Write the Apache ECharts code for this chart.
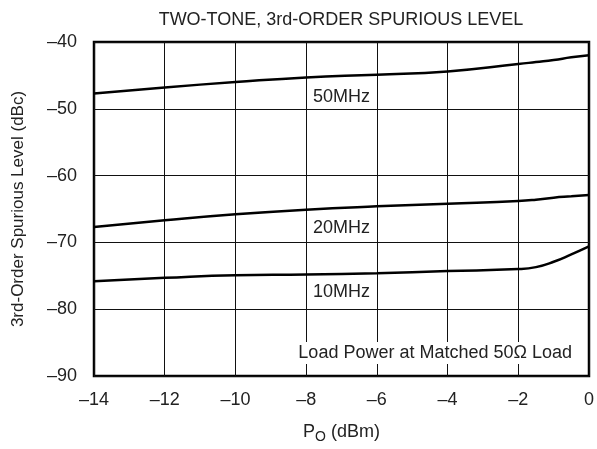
<!DOCTYPE html>
<html>
<head>
<meta charset="utf-8">
<script src="https://cdn.jsdelivr.net/npm/echarts@6/dist/echarts.min.js"></script>
<style>
  html, body { margin: 0; padding: 0; background: #fff; }
  #chart { width: 597px; height: 449px; }
</style>
</head>
<body>
<div id="chart"></div>
<script>
// Output power P_O (dBm)
const powerDbm = [-14, -12, -10, -8, -6, -4, -2, -1.5, -1, -0.5, 0];
// Third-order spurious level (dBc) at each frequency
const level50MHz = [-47.7, -46.8, -46.0, -45.3, -44.9, -44.4, -43.3, -43.0, -42.7, -42.3, -42.0];
const level20MHz = [-67.7, -66.7, -65.8, -65.1, -64.6, -64.2, -63.8, -63.6, -63.3, -63.1, -62.9];
const level10MHz = [-75.8, -75.3, -74.9, -74.8, -74.6, -74.3, -74.0, -73.7, -72.9, -71.8, -70.6];

const xTicks = [-14, -12, -10, -8, -6, -4, -2, 0];
const yTicks = [-90, -80, -70, -60, -50, -40];

const seriesNames = ['50MHz', '20MHz', '10MHz'];
const seriesValues = [level50MHz, level20MHz, level10MHz];
// Curve label anchors [P_O, level]
const labelAnchors = [[-7, -48.2], [-7, -67.85], [-7, -77.4]];

const FONT = 'Liberation Sans, Arial, Helvetica, sans-serif';
const TEXT = '#222';
const FS = 18;
const dash = v => String(v).replace('-', '\u2013');

const chart = echarts.init(document.getElementById('chart'), null, { renderer: 'canvas' });

chart.setOption({
  animation: false,
  backgroundColor: '#fff',
  textStyle: { fontFamily: FONT },
  title: {
    text: 'TWO-TONE, 3rd-ORDER SPURIOUS LEVEL',
    left: 336, top: 6, textAlign: 'center',
    textStyle: { fontFamily: FONT, fontSize: FS, fontWeight: 'normal', color: TEXT }
  },
  grid: {
    left: 94, right: 8, top: 42, bottom: 72,
    show: true, borderColor: '#000', borderWidth: 2.5, backgroundColor: 'transparent'
  },
  xAxis: {
    type: 'value', min: -14, max: 0, interval: 2,
    axisLine: { show: false },
    axisTick: { show: false },
    splitLine: { show: true, lineStyle: { color: '#111', width: 1 } },
    axisLabel: {
      color: TEXT, fontSize: FS, fontFamily: FONT, margin: 15,
      formatter: v => xTicks.includes(v) ? dash(v) : ''
    },
    name: '{n|P}{s|O}{n| (dBm)}',
    nameLocation: 'middle', nameGap: 44,
    nameTextStyle: {
      rich: {
        n: { fontSize: FS, color: TEXT, fontFamily: FONT },
        s: { fontSize: 14, color: TEXT, fontFamily: FONT, verticalAlign: 'bottom', padding: [10, 0, 0, 0] }
      }
    }
  },
  yAxis: {
    type: 'value', min: -90, max: -40, interval: 10,
    axisLine: { show: false },
    axisTick: { show: false },
    splitLine: { show: true, lineStyle: { color: '#111', width: 1 } },
    axisLabel: {
      color: TEXT, fontSize: FS, fontFamily: FONT, margin: 17,
      formatter: v => yTicks.includes(v) ? dash(v) : ''
    },
    name: '3rd-Order Spurious Level (dBc)',
    nameLocation: 'middle', nameGap: 67, nameRotate: 90,
    nameTextStyle: { fontSize: 17, color: TEXT, fontFamily: FONT }
  },
  graphic: [{
    type: 'text',
    right: 22, top: 342, z: 100,
    style: {
      text: 'Load Power at Matched 50\u03A9 Load',
      font: FS + 'px ' + FONT,
      fill: TEXT,
      backgroundColor: '#fff',
      padding: [2, 3, 2, 3]
    }
  }],
  series: seriesNames.map((name, i) => ({
    name,
    type: 'line',
    smooth: 0.5,
    showSymbol: false,
    data: powerDbm.map((x, k) => [x, seriesValues[i][k]]),
    lineStyle: { color: '#000', width: 2.5 },
    z: 5,
    markPoint: {
      symbol: 'rect', symbolSize: 1,
      itemStyle: { color: 'transparent' },
      data: [{
        coord: labelAnchors[i],
        label: {
          show: true, formatter: name, position: 'inside',
          fontSize: FS, fontFamily: FONT, color: TEXT,
          backgroundColor: '#fff', padding: [1, 2, 1, 2]
        }
      }]
    }
  }))
});
</script>
</body>
</html>
